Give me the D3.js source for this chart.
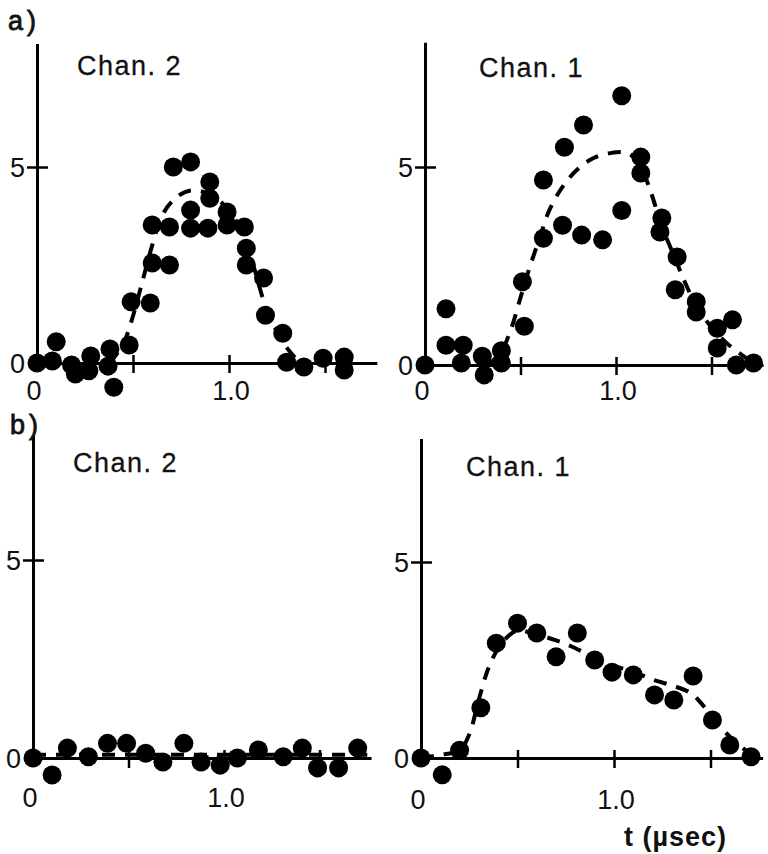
<!DOCTYPE html>
<html>
<head>
<meta charset="utf-8">
<script src="https://cdn.jsdelivr.net/npm/d3@7"></script>
<style>
  html, body { margin: 0; padding: 0; background: #fff; }
  svg { display: block; }
  text { font-family: "Liberation Sans", Arial, sans-serif; fill: #111; }
  .num { font-size: 27px; }
  .chan { font-size: 27px; letter-spacing: 1.5px; stroke: #111; stroke-width: 0.3px; }
  .tag { font-size: 27px; letter-spacing: 4px; stroke: #111; stroke-width: 0.8px; }
  .unit { font-size: 27px; font-weight: bold; letter-spacing: 1px; }
</style>
</head>
<body>
<svg id="chart" width="768" height="854"></svg>
<script>
// ---------------- DATA ----------------
// panel a), Chan. 2
const aCh2T = [0, 0.08, 0.10, 0.18, 0.20, 0.28, 0.27, 0.38, 0.37, 0.40, 0.48, 0.49, 0.59, 0.60, 0.69, 0.60, 0.69, 0.71, 0.80, 0.80, 0.80, 0.90, 0.90, 0.89, 0.99, 0.99, 1.08, 1.09, 1.09, 1.18, 1.19, 1.28, 1.30, 1.39, 1.49, 1.60, 1.60];
const aCh2V = [0, 0.05, 0.54, -0.05, -0.28, 0.18, -0.2, 0.36, -0.08, -0.62, 0.46, 1.56, 1.53, 2.55, 2.5, 3.52, 3.47, 5.0, 5.13, 3.9, 3.44, 4.62, 4.2, 3.44, 3.85, 3.52, 3.47, 2.93, 2.5, 2.17, 1.22, 0.76, 0.02, -0.1, 0.12, 0.15, -0.18];
const aCh2FitT = [0.38, 0.45, 0.50, 0.55, 0.60, 0.65, 0.72, 0.80, 0.90, 1.00, 1.06, 1.12, 1.18, 1.24, 1.30, 1.36];
const aCh2FitV = [0.0, 0.5, 1.2, 2.1, 3.0, 3.75, 4.2, 4.4, 4.3, 3.9, 3.4, 2.6, 1.6, 0.9, 0.4, 0.05];

// panel a), Chan. 1
const aCh1T = [0, 0.11, 0.11, 0.19, 0.20, 0.30, 0.31, 0.40, 0.40, 0.52, 0.51, 0.62, 0.62, 0.72, 0.73, 0.82, 0.83, 0.93, 1.03, 1.03, 1.13, 1.13, 1.24, 1.23, 1.32, 1.31, 1.42, 1.42, 1.53, 1.61, 1.53, 1.63, 1.72];
const aCh1V = [0, 1.42, 0.5, 0.05, 0.5, 0.22, -0.25, 0.36, 0.05, 0.98, 2.1, 4.67, 3.2, 3.53, 5.5, 3.28, 6.06, 3.16, 6.8, 3.9, 5.25, 4.85, 3.71, 3.36, 2.73, 1.9, 1.6, 1.34, 0.93, 1.14, 0.43, 0, 0.05];
const aCh1FitT = [0.33, 0.40, 0.45, 0.50, 0.55, 0.60, 0.65, 0.72, 0.80, 0.88, 0.97, 1.06, 1.12, 1.18, 1.24, 1.30, 1.36, 1.42, 1.50, 1.58, 1.66, 1.72];
const aCh1FitV = [0, 0.35, 0.9, 1.7, 2.5, 3.2, 3.9, 4.5, 4.95, 5.22, 5.35, 5.35, 5.1, 4.4, 3.5, 2.8, 2.1, 1.5, 0.95, 0.55, 0.25, 0.05];

// panel b), Chan. 2
const bCh2T = [0, 0.10, 0.18, 0.29, 0.39, 0.49, 0.59, 0.68, 0.79, 0.88, 0.98, 1.07, 1.18, 1.31, 1.41, 1.49, 1.60, 1.70];
const bCh2V = [0, -0.43, 0.25, 0.03, 0.37, 0.37, 0.12, -0.1, 0.37, -0.1, -0.18, 0.0, 0.2, 0.03, 0.25, -0.25, -0.25, 0.25];
const bCh2FitT = [0, 1.75];
const bCh2FitV = [0.08, 0.08];

// panel b), Chan. 1
const bCh1T = [0, 0.11, 0.20, 0.31, 0.39, 0.50, 0.60, 0.70, 0.81, 0.90, 0.99, 1.10, 1.21, 1.31, 1.41, 1.51, 1.60, 1.71];
const bCh1V = [0, -0.43, 0.2, 1.28, 2.93, 3.44, 3.19, 2.58, 3.19, 2.5, 2.19, 2.12, 1.61, 1.48, 2.09, 0.97, 0.33, 0.03];
const bCh1FitT = [0, 0.10, 0.20, 0.25, 0.30, 0.35, 0.40, 0.45, 0.50, 0.60, 0.70, 0.80, 0.90, 1.00, 1.10, 1.20, 1.30, 1.40, 1.46, 1.55, 1.62, 1.72];
const bCh1FitV = [0, 0.08, 0.2, 0.6, 1.5, 2.3, 2.8, 3.1, 3.25, 3.15, 3.0, 2.8, 2.55, 2.35, 2.2, 2.0, 1.85, 1.65, 1.35, 0.8, 0.45, 0.05];

// tick labels
const chanLabels = ["Chan. 2", "Chan. 1", "Chan. 2", "Chan. 1"];
const xTickVals = [0.5, 1.0, 1.5];
const yTickVals = [5];
const xLabelVals = [0, 1.0];
const xLabelText = ["0", "1.0"];
const yLabelVals = [0, 5];
const yLabelText = ["0", "5"];
const partLabels = ["a)", "b)"];
const unitLabel = "t (\u00B5sec)";

// ---------------- LAYOUT ----------------
const panels = [
  { t: aCh2T, v: aCh2V, ft: aCh2FitT, fv: aCh2FitV, x0: 37,  xu: 192, y0: 363, yu: 39.2, lx: 77,  ly: 75,  xly: 400 },
  { t: aCh1T, v: aCh1V, ft: aCh1FitT, fv: aCh1FitV, x0: 425, xu: 191, y0: 365, yu: 39.6, lx: 479, ly: 77,  xly: 400 },
  { t: bCh2T, v: bCh2V, ft: bCh2FitT, fv: bCh2FitV, x0: 33,  xu: 191, y0: 758, yu: 39.6, lx: 73,  ly: 472, xly: 807 },
  { t: bCh1T, v: bCh1V, ft: bCh1FitT, fv: bCh1FitV, x0: 421, xu: 193, y0: 758, yu: 39.2, lx: 466, ly: 476, xly: 809 }
];
const X_MAX = 1.77, Y_MAX = 8.15;

const svg = d3.select("#chart");

panels.forEach((p, i) => {
  const x = d3.scaleLinear().domain([0, X_MAX]).range([p.x0, p.x0 + X_MAX * p.xu]);
  const y = d3.scaleLinear().domain([0, Y_MAX]).range([p.y0, p.y0 - Y_MAX * p.yu]);
  const g = svg.append("g");

  // x axis
  const xa = g.append("g").attr("transform", `translate(0,${y(0)})`)
    .call(d3.axisBottom(x).tickValues(xTickVals).tickSizeInner(10).tickSizeOuter(0).tickFormat(""));
  xa.select(".domain").attr("stroke", "#000").attr("stroke-width", 3);
  xa.selectAll(".tick line").attr("stroke", "#000").attr("stroke-width", 2.5).attr("y1", -8);

  // y axis
  const ya = g.append("g").attr("transform", `translate(${x(0)},0)`)
    .call(d3.axisLeft(y).tickValues(yTickVals).tickSizeInner(10).tickSizeOuter(0).tickFormat(""));
  ya.select(".domain").attr("stroke", "#000").attr("stroke-width", 3);
  ya.selectAll(".tick line").attr("stroke", "#000").attr("stroke-width", 2.5).attr("x1", 11);

  // tick labels
  g.selectAll(".xl").data(xLabelVals).enter().append("text")
    .attr("class", "num").attr("text-anchor", "middle")
    .attr("x", (d) => x(d) + (d === 0 ? -3 : 2)).attr("y", p.xly)
    .text((d, j) => xLabelText[j]);
  g.selectAll(".yl").data(yLabelVals).enter().append("text")
    .attr("class", "num").attr("text-anchor", "end")
    .attr("x", x(0) - 12).attr("y", (d) => y(d) + 10)
    .text((d, j) => yLabelText[j]);

  // channel label
  g.append("text").attr("class", "chan").attr("x", p.lx).attr("y", p.ly).text(chanLabels[i]);

  // dashed fit
  const fit = p.ft.map((t, j) => [t, p.fv[j]]);
  g.append("path").datum(fit)
    .attr("fill", "none").attr("stroke", "#000").attr("stroke-width", 4)
    .attr("stroke-dasharray", "13,10")
    .attr("d", d3.line().x(d => x(d[0])).y(d => y(d[1])).curve(d3.curveCatmullRom.alpha(0.5)));

  // data dots
  const pts = p.t.map((t, j) => [t, p.v[j]]);
  g.selectAll("circle").data(pts).enter().append("circle")
    .attr("cx", d => x(d[0])).attr("cy", d => y(d[1])).attr("r", 9.5).attr("fill", "#000");
});

// part labels
svg.append("text").attr("class", "tag").attr("x", 8).attr("y", 30).text(partLabels[0]);
svg.append("text").attr("class", "tag").attr("x", 10).attr("y", 434).text(partLabels[1]);
// axis unit
svg.append("text").attr("class", "unit").attr("x", 624).attr("y", 846).text(unitLabel);
</script>
</body>
</html>
